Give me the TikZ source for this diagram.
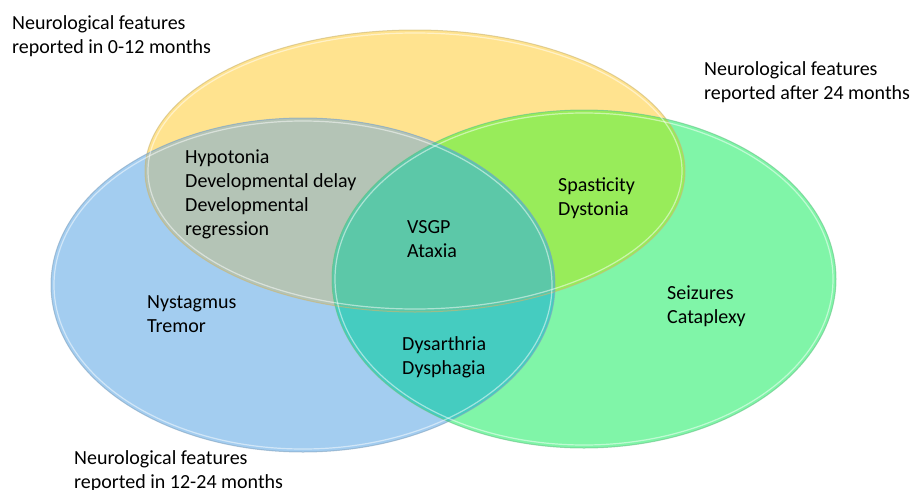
\documentclass[tikz,border=0pt]{standalone}
\usepackage{fontspec}
\setmainfont{Carlito}
\usetikzlibrary{positioning}

\definecolor{yelfill}{HTML}{FFE38F}
\definecolor{bluefill}{HTML}{A3CDF0}
\definecolor{grnfill}{HTML}{80F5A8}
\definecolor{yelblue}{HTML}{B4C4B6}
\definecolor{yelgrn}{HTML}{98EC5A}
\definecolor{bluegrn}{HTML}{45CCC0}
\definecolor{allthree}{HTML}{5CC8A8}

\begin{document}
\begin{tikzpicture}[
    x=1pt, y=-1pt,
    lbl/.style={font=\fontsize{20}{24}\selectfont, align=left, anchor=base west, inner sep=0pt},
    rim/.style={line width=1pt, draw=#1, opacity=0.6},
    gloss/.style={line width=1.2pt, draw=white, opacity=0.5}
]
\useasboundingbox (0,0) rectangle (914,490);

% The three sets
\def\yelset{(415,171) ellipse [x radius=270pt, y radius=141pt]}
\def\bluset{(303,285) ellipse [x radius=252pt, y radius=167pt]}
\def\grnset{(584,279) ellipse [x radius=252pt, y radius=169pt]}

\fill[yelfill] \yelset;
\fill[bluefill] \bluset;
\fill[grnfill] \grnset;

% Overlaps
\begin{scope}
  \clip \yelset;
  \fill[yelblue] \bluset;
  \fill[yelgrn] \grnset;
\end{scope}
\begin{scope}
  \clip \bluset;
  \fill[bluegrn] \grnset;
\end{scope}
\begin{scope}
  \clip \yelset;
  \clip \bluset;
  \fill[allthree] \grnset;
\end{scope}

% Rims
\draw[rim=yelfill!80!black] \yelset;
\draw[rim=bluefill!80!black] \bluset;
\draw[rim=grnfill!80!black] \grnset;
\draw[gloss] (415,171) ellipse [x radius=267pt, y radius=138pt];
\draw[gloss] (303,285) ellipse [x radius=249pt, y radius=164pt];
\draw[gloss] (584,279) ellipse [x radius=249pt, y radius=166pt];

% Set titles (anchored at the last line)
\node[lbl] (early) at (12,53) {Neurological features\\reported in 0-12 months};
\node[lbl] (late) at (704,99) {Neurological features\\reported after 24 months};
\node[lbl] (mid) at (74,488) {Neurological features\\reported in 12-24 months};

% Features
\node[lbl] (hypo) at (185,235) {Hypotonia\\Developmental delay\\Developmental\\regression};
\node[lbl] (vsgp) at (407,257) {VSGP\\Ataxia};
\node[lbl] (spast) at (558,215) {Spasticity\\Dystonia};
\node[lbl] (nyst) at (147,332) {Nystagmus\\Tremor};
\node[lbl] (seiz) at (667,323) {Seizures\\Cataplexy};
\node[lbl] (dysar) at (402,374) {Dysarthria\\Dysphagia};

\end{tikzpicture}
\end{document}
